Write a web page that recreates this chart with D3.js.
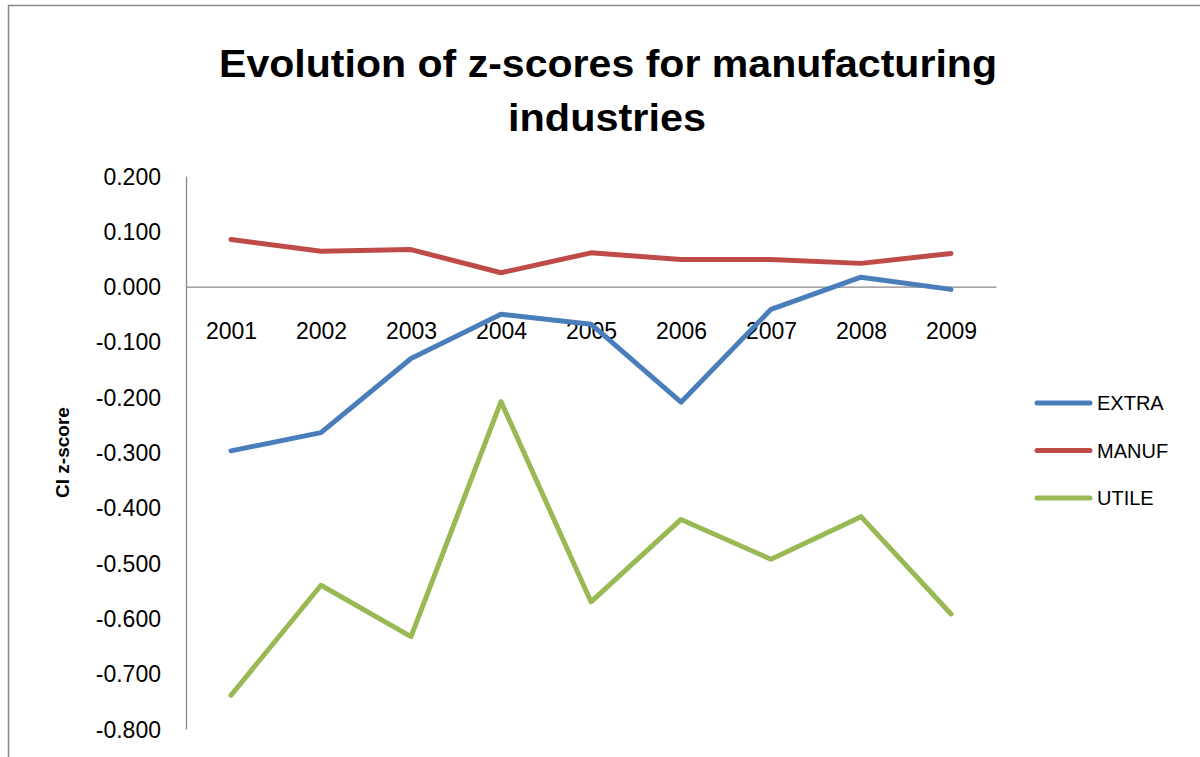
<!DOCTYPE html>
<html>
<head>
<meta charset="utf-8">
<script src="https://cdn.jsdelivr.net/npm/d3@7"></script>
<style>
  html, body { margin: 0; padding: 0; background: #ffffff; }
  svg { display: block; }
  text { font-family: "Liberation Sans", Arial, sans-serif; fill: #000; }
</style>
</head>
<body>
<svg id="chart" width="1200" height="757"></svg>
<script>
// Years on the category axis
const years = ["2001", "2002", "2003", "2004", "2005", "2006", "2007", "2008", "2009"];

// CI z-score per industry group
const extra = [-0.297, -0.264, -0.130, -0.050, -0.068, -0.209, -0.041, 0.017, -0.005];
const manuf = [0.085, 0.064, 0.067, 0.025, 0.061, 0.049, 0.049, 0.042, 0.060];
const utile = [-0.739, -0.540, -0.633, -0.208, -0.570, -0.421, -0.493, -0.416, -0.592];

const seriesNames = ["EXTRA", "MANUF", "UTILE"];
const seriesColors = ["#4a7ebb", "#be4b48", "#98b954"];

// Value axis ticks
const yTicks = [0.2, 0.1, 0.0, -0.1, -0.2, -0.3, -0.4, -0.5, -0.6, -0.7, -0.8];

const titleLines = ["Evolution of z-scores for manufacturing", "industries"];
const yAxisTitle = "CI z-score";

const series = seriesNames.map((name, i) => ({
  name,
  color: seriesColors[i],
  values: [extra, manuf, utile][i]
}));

const svg = d3.select("#chart");

// Chart area frame (open at right and bottom edges)
svg.append("rect")
  .attr("x", 8.5).attr("y", 5.5)
  .attr("width", 1260).attr("height", 800)
  .attr("fill", "none")
  .attr("stroke", "#898989")
  .attr("stroke-width", 1.5);

const x = d3.scalePoint().domain(years).range([186, 996]).padding(0.5);
const y = d3.scaleLinear().domain([-0.8, 0.2]).range([729, 176]);

// Title
const title = svg.append("g");
title.append("text")
  .attr("x", 608).attr("y", 77)
  .attr("text-anchor", "middle")
  .attr("font-size", 39).attr("font-weight", "bold")
  .attr("textLength", 778).attr("lengthAdjust", "spacingAndGlyphs")
  .text(titleLines[0]);
title.append("text")
  .attr("x", 607).attr("y", 131)
  .attr("text-anchor", "middle")
  .attr("font-size", 39).attr("font-weight", "bold")
  .attr("textLength", 198).attr("lengthAdjust", "spacingAndGlyphs")
  .text(titleLines[1]);

// Value axis
const yAxis = svg.append("g")
  .attr("transform", "translate(186,0)")
  .call(d3.axisLeft(y).tickValues(yTicks).tickSize(0).tickPadding(25)
    .tickFormat(d => d.toFixed(3)));
yAxis.select(".domain").attr("stroke", "#878787").attr("stroke-width", 1.3);
yAxis.selectAll("text")
  .attr("font-size", 23)
  .attr("font-family", "Liberation Sans, Arial, sans-serif")
  .attr("fill", "#000")
  .attr("dy", "0.35em");

// Category axis crossing at zero
const xAxis = svg.append("g")
  .attr("transform", `translate(0,${y(0)})`)
  .call(d3.axisBottom(x).tickSize(0).tickSizeOuter(0));
xAxis.select(".domain").attr("stroke", "#878787").attr("stroke-width", 1.3);
xAxis.selectAll("text")
  .attr("font-size", 23)
  .attr("font-family", "Liberation Sans, Arial, sans-serif")
  .attr("fill", "#000")
  .attr("y", 44)
  .attr("dy", "0.35em");

// Value axis title
svg.append("text")
  .attr("transform", `translate(62,${(y(0.2) + y(-0.8)) / 2}) rotate(-90)`)
  .attr("text-anchor", "middle")
  .attr("dy", "0.35em")
  .attr("font-size", 19).attr("font-weight", "bold")
  .text(yAxisTitle);

// Series lines
const line = d3.line()
  .x((d, i) => x(years[i]))
  .y(d => y(d));

svg.append("g").selectAll("path")
  .data(series)
  .join("path")
  .attr("d", d => line(d.values))
  .attr("fill", "none")
  .attr("stroke", d => d.color)
  .attr("stroke-width", 5)
  .attr("stroke-linejoin", "round")
  .attr("stroke-linecap", "round");

// Legend
const legend = svg.append("g").selectAll("g")
  .data(series)
  .join("g")
  .attr("transform", (d, i) => `translate(0,${403 + i * 47.5})`);
legend.append("line")
  .attr("x1", 1037).attr("x2", 1090)
  .attr("stroke", d => d.color)
  .attr("stroke-width", 5)
  .attr("stroke-linecap", "round");
legend.append("text")
  .attr("x", 1097)
  .attr("dy", "0.35em")
  .attr("font-size", 20)
  .text(d => d.name);
</script>
</body>
</html>
